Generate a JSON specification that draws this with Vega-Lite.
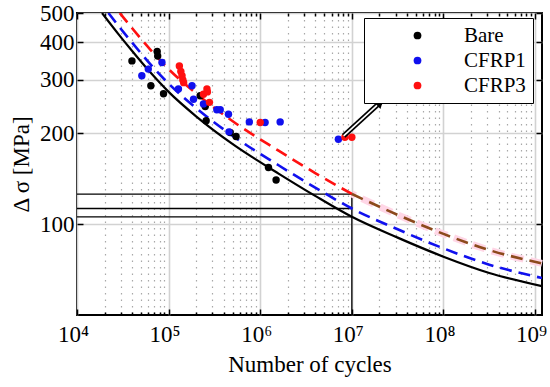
{
  "$schema": "https://vega.github.io/schema/vega-lite/v6.json",
  "width": 465,
  "height": 302,
  "autosize": {"type": "none"},
  "padding": {"left": 77, "top": 13, "right": 8, "bottom": 72},
  "config": {
    "view": {"stroke": "black", "strokeWidth": 2},
    "font": "Liberation Serif",
    "axis": {"domain": false, "labelFont": "Liberation Serif", "titleFont": "Liberation Serif", "labelColor": "black", "titleColor": "black", "titleFontWeight": "normal", "tickColor": "black"},
    "legend": {"labelFont": "Liberation Serif"}
  },
  "datasets": {
    "curves": [
      {"x": 18750, "y": 500, "c": "Bare"},
      {"x": 28180, "y": 426.6, "c": "Bare"},
      {"x": 39810, "y": 375, "c": "Bare"},
      {"x": 63100, "y": 318, "c": "Bare"},
      {"x": 100000, "y": 274, "c": "Bare"},
      {"x": 199500, "y": 227.5, "c": "Bare"},
      {"x": 501200, "y": 184, "c": "Bare"},
      {"x": 1585000, "y": 147, "c": "Bare"},
      {"x": 3981000, "y": 124, "c": "Bare"},
      {"x": 10000000, "y": 105.7, "c": "Bare"},
      {"x": 31620000, "y": 90.2, "c": "Bare"},
      {"x": 100000000, "y": 78.0, "c": "Bare"},
      {"x": 316200000, "y": 68.9, "c": "Bare"},
      {"x": 1190000000, "y": 62.3, "c": "Bare"},
      {"x": 22030, "y": 500, "c": "CFRP1"},
      {"x": 28180, "y": 454.3, "c": "CFRP1"},
      {"x": 39810, "y": 399.4, "c": "CFRP1"},
      {"x": 63100, "y": 338.7, "c": "CFRP1"},
      {"x": 100000, "y": 291.8, "c": "CFRP1"},
      {"x": 199500, "y": 242.3, "c": "CFRP1"},
      {"x": 501200, "y": 196, "c": "CFRP1"},
      {"x": 1585000, "y": 156.6, "c": "CFRP1"},
      {"x": 3981000, "y": 132.1, "c": "CFRP1"},
      {"x": 10000000, "y": 112.6, "c": "CFRP1"},
      {"x": 31620000, "y": 96.1, "c": "CFRP1"},
      {"x": 100000000, "y": 83.1, "c": "CFRP1"},
      {"x": 316200000, "y": 73.4, "c": "CFRP1"},
      {"x": 1190000000, "y": 66.3, "c": "CFRP1"},
      {"x": 29310, "y": 500, "c": "CFRP3"},
      {"x": 39810, "y": 446, "c": "CFRP3"},
      {"x": 63100, "y": 378.4, "c": "CFRP3"},
      {"x": 100000, "y": 326, "c": "CFRP3"},
      {"x": 199500, "y": 270.7, "c": "CFRP3"},
      {"x": 501200, "y": 219, "c": "CFRP3"},
      {"x": 1585000, "y": 175, "c": "CFRP3"},
      {"x": 3981000, "y": 147.6, "c": "CFRP3"},
      {"x": 10000000, "y": 125.8, "c": "CFRP3"},
      {"x": 10000000, "y": 125.8, "c": "CFRP3b"},
      {"x": 31620000, "y": 107.3, "c": "CFRP3b"},
      {"x": 100000000, "y": 92.8, "c": "CFRP3b"},
      {"x": 316200000, "y": 82.0, "c": "CFRP3b"},
      {"x": 1190000000, "y": 74.1, "c": "CFRP3b"}
    ],
    "pts": [
      {"x": 39800, "y": 347, "s": "Bare"},
      {"x": 75000, "y": 373, "s": "Bare"},
      {"x": 76000, "y": 360, "s": "Bare"},
      {"x": 64000, "y": 287, "s": "Bare"},
      {"x": 88000, "y": 270, "s": "Bare"},
      {"x": 221000, "y": 266, "s": "Bare"},
      {"x": 251000, "y": 245, "s": "Bare"},
      {"x": 257000, "y": 220, "s": "Bare"},
      {"x": 470000, "y": 201, "s": "Bare"},
      {"x": 545000, "y": 195, "s": "Bare"},
      {"x": 1230000, "y": 154, "s": "Bare"},
      {"x": 1490000, "y": 140, "s": "Bare"},
      {"x": 51000, "y": 310, "s": "CFRP1"},
      {"x": 60000, "y": 326, "s": "CFRP1"},
      {"x": 84600, "y": 343, "s": "CFRP1"},
      {"x": 128000, "y": 280, "s": "CFRP1"},
      {"x": 180000, "y": 287, "s": "CFRP1"},
      {"x": 187000, "y": 259, "s": "CFRP1"},
      {"x": 240000, "y": 250, "s": "CFRP1"},
      {"x": 336000, "y": 239, "s": "CFRP1"},
      {"x": 366000, "y": 239, "s": "CFRP1"},
      {"x": 450000, "y": 231, "s": "CFRP1"},
      {"x": 456000, "y": 202, "s": "CFRP1"},
      {"x": 760000, "y": 218, "s": "CFRP1"},
      {"x": 1130000, "y": 217, "s": "CFRP1"},
      {"x": 1650000, "y": 218, "s": "CFRP1"},
      {"x": 7130000, "y": 191, "s": "CFRP1"},
      {"x": 131000, "y": 334, "s": "CFRP3"},
      {"x": 136000, "y": 320, "s": "CFRP3"},
      {"x": 140000, "y": 310, "s": "CFRP3"},
      {"x": 143000, "y": 300, "s": "CFRP3"},
      {"x": 146000, "y": 294, "s": "CFRP3"},
      {"x": 240000, "y": 269, "s": "CFRP3"},
      {"x": 262000, "y": 280, "s": "CFRP3"},
      {"x": 265000, "y": 274, "s": "CFRP3"},
      {"x": 279000, "y": 253, "s": "CFRP3"},
      {"x": 1000000, "y": 217, "s": "CFRP3"},
      {"x": 8400000, "y": 194, "s": "CFRP3"},
      {"x": 10000000, "y": 194, "s": "CFRP3"}
    ],
    "hl": [
      {"x": 10000, "x2": 10000000, "y": 125.7},
      {"x": 10000, "x2": 10000000, "y": 112.6},
      {"x": 10000, "x2": 10000000, "y": 105.7}
    ],
    "vl": [{"x": 10000000, "y": 50, "y2": 125.7}],
    "arrow": [{"x": 8130000, "y": 196, "x2": 21000000, "y2": 255}],
    "head": [{"x": 20400000, "y": 253.3}]
  },
  "resolve": {"axis": {"x": "independent", "y": "independent"}},
  "layer": [
    {
      "data": {"name": "hl"},
      "mark": {"type": "rule", "color": "black", "strokeWidth": 1.3},
      "encoding": {
        "x": {"field": "x", "type": "quantitative",
          "scale": {"type": "log", "domain": [10000, 1190000000], "nice": false},
          "axis": {
            "orient": "bottom", "title": "Number of cycles", "titleFontSize": 23, "titlePadding": 4,
            "values": [10000,20000,30000,40000,50000,60000,70000,80000,90000,100000,200000,300000,400000,500000,600000,700000,800000,900000,1000000,2000000,3000000,4000000,5000000,6000000,7000000,8000000,9000000,10000000,20000000,30000000,40000000,50000000,60000000,70000000,80000000,90000000,100000000,200000000,300000000,400000000,500000000,600000000,700000000,800000000,900000000,1000000000],
            "labelExpr": "abs(log(datum.value)/LN10 - round(log(datum.value)/LN10)) < 0.01 ? '10' + ['⁰','¹','²','³','⁴','⁵','⁶','⁷','⁸','⁹'][round(log(datum.value)/LN10)] : ''",
            "labelFontSize": 23, "labelPadding": 14, "labelOffset": -4, "labelFlush": false, "labelOverlap": false,
            "grid": true,
            "gridColor": {"condition": {"test": "abs(log(datum.value)/LN10 - round(log(datum.value)/LN10)) < 0.01", "value": "#d2d2d2"}, "value": "#a8a8a8"},
            "gridDash": {"condition": {"test": "abs(log(datum.value)/LN10 - round(log(datum.value)/LN10)) < 0.01", "value": []}, "value": [1.5, 5]},
            "gridWidth": {"condition": {"test": "abs(log(datum.value)/LN10 - round(log(datum.value)/LN10)) < 0.01", "value": 1.6}, "value": 1.2},
            "tickSize": {"condition": {"test": "abs(log(datum.value)/LN10 - round(log(datum.value)/LN10)) < 0.01", "value": -6}, "value": -3},
            "tickWidth": 1.5
          }
        },
        "x2": {"field": "x2"},
        "y": {"field": "y", "type": "quantitative",
          "scale": {"type": "log", "domain": [50, 500], "nice": false},
          "axis": {
            "orient": "left", "title": "Δ σ [MPa]", "titleFontSize": 23, "titlePadding": 6,
            "values": [100, 200, 300, 400, 500], "format": "d",
            "labelFontSize": 23, "labelPadding": 9, "labelFlush": false, "labelOverlap": false,
            "grid": true, "gridColor": "#d2d2d2", "gridWidth": 1.6,
            "tickSize": -6, "tickWidth": 1.5
          }
        }
      }
    },
    {
      "data": {"name": "vl"},
      "mark": {"type": "rule", "color": "black", "strokeWidth": 1.3},
      "encoding": {
        "x": {"field": "x", "type": "quantitative",
          "axis": {
            "orient": "top", "title": null, "labels": false, "grid": false,
            "values": [10000,20000,30000,40000,50000,60000,70000,80000,90000,100000,200000,300000,400000,500000,600000,700000,800000,900000,1000000,2000000,3000000,4000000,5000000,6000000,7000000,8000000,9000000,10000000,20000000,30000000,40000000,50000000,60000000,70000000,80000000,90000000,100000000,200000000,300000000,400000000,500000000,600000000,700000000,800000000,900000000,1000000000],
            "tickSize": {"condition": {"test": "abs(log(datum.value)/LN10 - round(log(datum.value)/LN10)) < 0.01", "value": -6}, "value": -3},
            "tickWidth": 1.5
          }
        },
        "y": {"field": "y", "type": "quantitative",
          "axis": {"orient": "right", "title": null, "labels": false, "grid": false, "values": [100, 200, 300, 400, 500], "tickSize": -6, "tickWidth": 1.5}
        },
        "y2": {"field": "y2"}
      }
    },
    {
      "data": {"name": "curves"},
      "transform": [{"filter": "datum.c === 'CFRP3b'"}],
      "mark": {"type": "line", "color": "#ffd6e6", "strokeWidth": 7, "strokeDash": [13, 7], "strokeDashOffset": 9, "interpolate": "monotone"},
      "encoding": {
        "x": {"field": "x", "type": "quantitative", "axis": null},
        "y": {"field": "y", "type": "quantitative", "axis": null}
      }
    },
    {
      "data": {"name": "curves"},
      "transform": [{"filter": "datum.c === 'Bare'"}],
      "mark": {"type": "line", "color": "black", "strokeWidth": 2.2, "interpolate": "monotone", "clip": true},
      "encoding": {
        "x": {"field": "x", "type": "quantitative", "axis": null},
        "y": {"field": "y", "type": "quantitative", "axis": null}
      }
    },
    {
      "data": {"name": "curves"},
      "transform": [{"filter": "datum.c === 'CFRP1'"}],
      "mark": {"type": "line", "color": "#1010ee", "strokeWidth": 2.6, "strokeDash": [12, 7], "interpolate": "monotone", "clip": true},
      "encoding": {
        "x": {"field": "x", "type": "quantitative", "axis": null},
        "y": {"field": "y", "type": "quantitative", "axis": null}
      }
    },
    {
      "data": {"name": "curves"},
      "transform": [{"filter": "datum.c === 'CFRP3'"}],
      "mark": {"type": "line", "color": "#ff1010", "strokeWidth": 2.6, "strokeDash": [12, 7], "interpolate": "monotone", "clip": true},
      "encoding": {
        "x": {"field": "x", "type": "quantitative", "axis": null},
        "y": {"field": "y", "type": "quantitative", "axis": null}
      }
    },
    {
      "data": {"name": "curves"},
      "transform": [{"filter": "datum.c === 'CFRP3b'"}],
      "mark": {"type": "line", "color": "#8c4a1c", "strokeWidth": 2.6, "strokeDash": [12, 7], "interpolate": "monotone", "clip": true},
      "encoding": {
        "x": {"field": "x", "type": "quantitative", "axis": null},
        "y": {"field": "y", "type": "quantitative", "axis": null}
      }
    },
    {
      "data": {"name": "pts"},
      "mark": {"type": "circle", "size": 55, "opacity": 1},
      "encoding": {
        "x": {"field": "x", "type": "quantitative", "axis": null},
        "y": {"field": "y", "type": "quantitative", "axis": null},
        "color": {"field": "s", "type": "nominal",
          "scale": {"domain": ["Bare", "CFRP1", "CFRP3"], "range": ["#000000", "#1010ee", "#ff1010"]},
          "legend": {
            "title": null, "orient": "none", "legendX": 287, "legendY": 5, "padding": 7,
            "strokeColor": "black", "fillColor": "white",
            "labelFontSize": 21, "labelFont": "Liberation Serif", "labelColor": "black",
            "symbolType": "circle", "symbolSize": 60, "symbolStrokeWidth": 0, "symbolOffset": 36,
            "labelOffset": 36, "rowPadding": 3
          }
        },
        "order": {"field": "s"}
      }
    },
    {
      "data": {"name": "arrow"},
      "mark": {"type": "rule", "color": "black", "strokeWidth": 5},
      "encoding": {
        "x": {"field": "x", "type": "quantitative", "axis": null},
        "y": {"field": "y", "type": "quantitative", "axis": null},
        "x2": {"field": "x2"},
        "y2": {"field": "y2"}
      }
    },
    {
      "data": {"name": "arrow"},
      "mark": {"type": "rule", "color": "white", "strokeWidth": 1.6},
      "encoding": {
        "x": {"field": "x", "type": "quantitative", "axis": null},
        "y": {"field": "y", "type": "quantitative", "axis": null},
        "x2": {"field": "x2"},
        "y2": {"field": "y2"}
      }
    },
    {
      "data": {"name": "head"},
      "mark": {"type": "point", "shape": "triangle-up", "filled": true, "color": "black", "size": 110, "angle": 47, "opacity": 1},
      "encoding": {
        "x": {"field": "x", "type": "quantitative", "axis": null},
        "y": {"field": "y", "type": "quantitative", "axis": null}
      }
    }
  ]
}
